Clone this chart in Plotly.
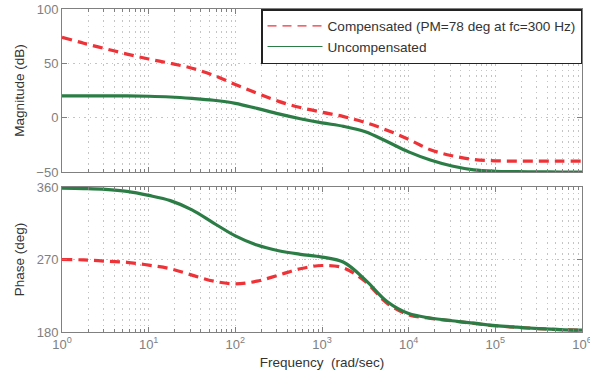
import plotly.graph_objects as go

# ---- data ----
freq_exp = [0, 0.25, 0.5, 0.75, 1, 1.25, 1.5, 1.75, 2, 2.25, 2.5, 2.75, 3,
            3.25, 3.5, 3.75, 4, 4.25, 4.5, 4.75, 5, 5.25, 5.5, 5.75, 6]

mag_comp = [74, 68.5, 63.5, 58.5, 54, 50, 45.5, 39, 30.5, 22.5, 15, 9.3, 5,
            1, -4.5, -11.5, -20, -29.5, -35, -38.5, -39.7, -40, -40, -40, -40]
mag_uncomp = [20, 20, 20, 20, 19.7, 19, 17.7, 16, 13.2, 8.5, 3.5, -1, -4.8,
              -8, -13, -22, -31.5, -39, -44.5, -48, -49.3, -49.7, -49.8, -50, -50]

ph_comp = [270.5, 270, 268.5, 267, 263.5, 259, 251, 243.5, 240, 243.5, 251, 259, 263,
           260, 243, 216, 201.5, 197, 193.8, 190.8, 187.8, 185.8, 184.2, 183, 182.3]
ph_uncomp = [359.5, 359, 358, 355.5, 350.5, 344, 332.5, 316, 300, 288.5, 281.5, 277, 273.5,
             267, 245, 218, 203, 197.5, 194, 191, 188, 186, 184.3, 183, 182.3]

x_tick_vals = [1, 10, 100, 1000, 10000, 100000, 1000000]
x_tick_text = ["10<sup>0</sup>", "10<sup>1</sup>", "10<sup>2</sup>", "10<sup>3</sup>",
               "10<sup>4</sup>", "10<sup>5</sup>", "10<sup>6</sup>"]
mag_ticks = [-50, 0, 50, 100]
ph_ticks = [180, 270, 360]

legend_names = ["Compensated (PM=78 deg at fc=300 Hz)", "Uncompensated"]

freq = [10 ** e for e in freq_exp]
minor_vals = [d * 10 ** k for k in range(6) for d in range(2, 10)]

RED = "#EE3338"
GREEN = "#2B7D45"
AXC = "#808080"
GRIDC = "#c4c4c4"
FONT = "Liberation Sans, Arial, sans-serif"

fig = go.Figure()

# magnitude
fig.add_trace(go.Scatter(x=freq, y=mag_comp, mode="lines", line_shape="spline",
                         line=dict(color=RED, width=3.2, dash="10px,6px"),
                         showlegend=False, xaxis="x", yaxis="y"))
fig.add_trace(go.Scatter(x=freq, y=mag_uncomp, mode="lines", line_shape="spline",
                         line=dict(color=GREEN, width=3.2),
                         showlegend=False, xaxis="x", yaxis="y"))
# phase
fig.add_trace(go.Scatter(x=freq, y=ph_comp, mode="lines", line_shape="spline",
                         line=dict(color=RED, width=3.2, dash="10px,6px"),
                         showlegend=False, xaxis="x2", yaxis="y2"))
fig.add_trace(go.Scatter(x=freq, y=ph_uncomp, mode="lines", line_shape="spline",
                         line=dict(color=GREEN, width=3.2),
                         showlegend=False, xaxis="x2", yaxis="y2"))

# legend entries (thin lines as in the reference)
fig.add_trace(go.Scatter(x=[None], y=[None], mode="lines", name=legend_names[0],
                         line=dict(color=RED, width=1.2, dash="9px,6px"),
                         xaxis="x", yaxis="y"))
fig.add_trace(go.Scatter(x=[None], y=[None], mode="lines", name=legend_names[1],
                         line=dict(color=GREEN, width=1.2),
                         xaxis="x", yaxis="y"))

def xaxis_common(show_labels, anchor):
    return dict(
        type="log", range=[0, 6], anchor=anchor,
        showline=True, linecolor=AXC, linewidth=1, mirror="ticks",
        ticks="inside", ticklen=5, tickcolor=AXC,
        tickvals=x_tick_vals, ticktext=x_tick_text,
        showticklabels=show_labels, ticklabeloverflow="allow",
        tickfont=dict(family=FONT, size=13, color=AXC),
        showgrid=True, gridcolor=GRIDC, griddash="1.5px,4px", gridwidth=1,
        minor=dict(tickvals=minor_vals, ticks="inside", ticklen=3, tickcolor=AXC,
                   showgrid=True, gridcolor=GRIDC, griddash="1.5px,4px", gridwidth=1),
        zeroline=False, automargin=False,
    )

def yaxis_common(rng, ticks, title, domain, anchor):
    return dict(
        range=rng, domain=domain, anchor=anchor,
        showline=True, linecolor=AXC, linewidth=1, mirror="ticks",
        ticks="inside", ticklen=5, tickcolor=AXC,
        tickvals=ticks, ticklabeloverflow="allow",
        tickfont=dict(family=FONT, size=13, color=AXC),
        showgrid=True, gridcolor=GRIDC, griddash="1.5px,4px", gridwidth=1,
        zeroline=False, automargin=False,
        title=dict(text=title, font=dict(family=FONT, size=13.5, color="#333333"),
                   standoff=8),
    )

fig.update_layout(
    width=590, height=383,
    margin=dict(l=62, r=8, t=9, b=51),
    paper_bgcolor="white", plot_bgcolor="white",
    font=dict(family=FONT, size=13, color="#333333"),
    xaxis=xaxis_common(False, "y"),
    xaxis2=xaxis_common(True, "y2"),
    yaxis=yaxis_common([-50, 100], mag_ticks, "Magnitude (dB)", [0.4954, 1.0], "x"),
    yaxis2=yaxis_common([180, 361], ph_ticks, "Phase (deg)", [0.0, 0.4489], "x2"),
    legend=dict(x=1, y=1, xanchor="right", yanchor="top",
                bgcolor="white", bordercolor="#222222", borderwidth=1.5,
                font=dict(family=FONT, size=13.6, color="#333333"),
                tracegroupgap=0, itemwidth=55),
    showlegend=True,
)
fig.update_layout(xaxis2=dict(title=dict(text="Frequency  (rad/sec)",
                                         font=dict(family=FONT, size=13.5, color="#333333"),
                                         standoff=6)))

# remove the default page margin so the figure fills the 590x383 window
fig.write_html("out.html",
               config={"displayModeBar": False},
               post_script="document.body.style.margin='0px';document.body.style.overflow='hidden';")
